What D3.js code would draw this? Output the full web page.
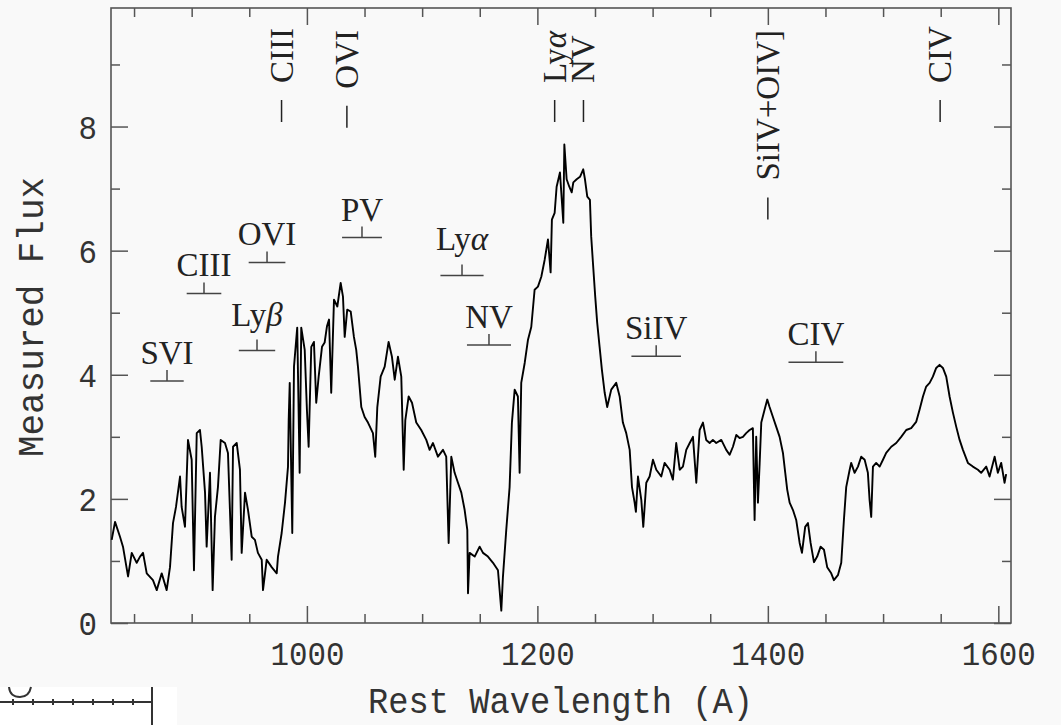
<!DOCTYPE html>
<html><head><meta charset="utf-8">
<script src="https://cdn.jsdelivr.net/npm/d3@7"></script>
<style>body{margin:0;background:#f9f9f9;} svg{display:block}</style>
</head><body>
<svg id="c" width="1061" height="725"></svg>
<script>
// ---------------- data ----------------
const wavelength = [830.6,833.5,837.8,840.4,844.8,848.0,852.3,855.2,857.8,861.0,866.4,869.7,874.0,878.3,881.2,883.8,886.4,889.9,891.3,894.2,896.8,900.0,902.0,904.4,907.2,908.7,911.6,913.0,915.9,918.2,920.2,922.8,925.2,928.9,931.5,934.7,935.9,939.1,941.9,943.4,946.3,948.9,952.1,954.9,957.5,960.8,961.9,965.1,969.4,973.8,974.9,978.1,981.0,983.6,984.2,985.1,987.3,988.8,991.6,993.7,995.1,998.1,1000.0,1001.5,1003.8,1006.1,1008.1,1010.2,1013.1,1015.4,1017.4,1019.2,1021.1,1023.5,1026.4,1029.3,1031.3,1032.8,1035.0,1038.0,1040.8,1042.8,1044.3,1047.2,1050.1,1053.0,1057.3,1059.3,1061.1,1064.0,1067.5,1070.9,1073.8,1076.2,1079.0,1081.9,1084.0,1085.4,1088.3,1091.2,1094.9,1099.2,1103.6,1106.5,1109.4,1113.7,1118.1,1120.9,1123.0,1125.3,1128.2,1131.1,1134.0,1136.9,1139.2,1139.8,1141.2,1145.6,1149.9,1152.8,1157.1,1161.5,1165.8,1168.7,1170.1,1173.0,1175.9,1177.9,1180.3,1183.1,1184.6,1186.0,1189.0,1191.8,1194.7,1197.6,1200.5,1203.4,1206.3,1209.2,1211.5,1212.6,1215.0,1216.7,1219.6,1222.5,1223.4,1225.4,1227.7,1229.8,1231.2,1234.1,1237.0,1239.8,1241.3,1243.3,1245.6,1246.7,1248.2,1250.2,1251.9,1254.0,1256.0,1258.4,1260.6,1264.1,1268.4,1271.4,1274.2,1277.1,1280.1,1282.1,1284.4,1285.5,1287.3,1290.2,1291.9,1294.5,1297.4,1300.3,1303.2,1307.5,1310.4,1314.8,1317.6,1320.5,1323.5,1326.3,1329.2,1332.2,1335.0,1337.9,1340.8,1343.7,1346.5,1349.5,1352.3,1355.2,1359.6,1363.9,1366.8,1369.7,1372.6,1375.5,1378.4,1381.2,1384.2,1387.0,1388.5,1389.9,1391.4,1392.9,1394.3,1397.2,1399.5,1401.5,1404.4,1407.3,1410.2,1413.1,1415.1,1416.8,1418.9,1421.8,1424.6,1427.6,1429.6,1432.4,1434.8,1437.1,1440.0,1442.8,1445.8,1448.7,1451.5,1455.0,1457.3,1460.8,1463.7,1466.0,1468.0,1471.0,1472.3,1475.3,1478.2,1481.0,1484.0,1486.8,1488.3,1489.7,1491.2,1494.0,1497.0,1499.9,1502.7,1507.1,1511.4,1515.7,1520.1,1524.4,1528.7,1531.7,1534.6,1537.4,1540.4,1543.2,1546.1,1549.0,1551.9,1554.8,1557.7,1560.6,1563.5,1566.4,1569.3,1573.6,1577.9,1582.3,1585.1,1589.5,1592.4,1596.8,1599.6,1602.5,1605.4,1606.8];
const flux = [1.34,1.63,1.39,1.23,0.75,1.13,0.97,1.07,1.13,0.8,0.69,0.53,0.8,0.53,0.9,1.61,1.87,2.36,1.87,1.55,2.95,2.63,0.85,3.06,3.11,2.84,2.1,1.23,2.42,0.53,1.71,2.19,2.95,2.9,2.74,1.02,2.84,2.9,2.47,1.13,2.1,1.82,1.39,1.34,1.13,1.02,0.53,1.02,0.9,0.8,1.07,1.45,1.94,2.52,3.27,3.87,1.45,4.13,4.76,2.42,4.76,4.4,3.44,2.84,4.45,4.53,3.55,3.97,4.45,4.52,4.78,4.89,3.71,5.21,5.1,5.48,5.26,4.61,5.05,5.02,4.61,4.4,4.13,3.48,3.32,3.23,3.06,2.68,3.48,3.97,4.13,4.53,4.29,3.92,4.29,3.97,2.47,3.27,3.65,3.55,3.23,3.11,2.95,2.79,2.9,2.68,2.79,2.68,1.29,2.68,2.42,2.26,2.1,1.82,1.5,0.48,1.13,1.07,1.23,1.13,1.07,0.97,0.85,0.2,0.74,1.5,2.19,3.23,3.76,3.65,2.42,3.87,4.19,4.56,4.77,5.37,5.42,5.58,5.85,6.18,5.65,6.5,6.61,7.03,7.26,6.45,7.71,7.15,7.03,6.94,7.1,7.15,7.19,7.31,7.15,6.87,6.82,6.23,5.81,5.26,4.84,4.45,4.08,3.71,3.48,3.76,3.87,3.65,3.23,3.06,2.79,2.19,1.94,1.79,2.36,1.98,1.55,2.26,2.36,2.63,2.47,2.36,2.58,2.47,2.31,2.9,2.47,2.52,2.79,2.9,3.0,2.26,3.11,3.23,2.95,2.9,2.95,2.9,2.95,2.79,2.71,2.84,3.03,2.98,3.0,3.06,3.11,3.14,1.66,3.0,1.94,2.58,3.23,3.44,3.6,3.48,3.32,3.16,3.0,2.74,2.42,2.15,1.94,1.82,1.66,1.29,1.13,1.55,1.61,1.29,0.98,1.07,1.23,1.18,0.9,0.8,0.69,0.77,0.97,1.66,2.19,2.47,2.58,2.42,2.52,2.68,2.63,2.42,1.98,1.71,2.52,2.58,2.52,2.63,2.74,2.84,2.9,3.0,3.11,3.14,3.24,3.44,3.65,3.81,3.87,3.97,4.11,4.16,4.11,3.97,3.65,3.39,3.16,2.95,2.79,2.58,2.52,2.47,2.42,2.52,2.36,2.68,2.42,2.58,2.26,2.4];

const xTicksMajor = [1000, 1200, 1400, 1600];
const xTickLabels = ["1000", "1200", "1400", "1600"];
const yTicksMajor = [0, 2, 4, 6, 8];
const yTickLabels = ["0", "2", "4", "6", "8"];
const xTitle = "Rest Wavelength (A)";
const yTitle = "Measured Flux";

const emissionNames = ["CIII", "OVI", "Lyα", "NV", "SiIV+OIV]", "CIV"];
const emissionWave = [978, 1034.7, 1215, 1240, 1400, 1549.5];

const absorptionNames = ["SVI", "CIII", "Lyβ", "OVI", "PV", "Lyα", "NV", "SiIV", "CIV"];
const absorptionWave = [878.6, 910.7, 956.7, 965.4, 1047.8, 1134.6, 1158.0, 1303.1, 1441.7];
const absorptionFlux = [3.9, 5.31, 4.39, 5.81, 6.21, 5.6, 4.48, 4.3, 4.2];
const troughHalfWidth = 0.0165; // fraction of wavelength (v/c)

// ---------------- drawing ----------------
const svg = d3.select("#c");
const L = 111, R = 1011, T = 8, B = 623;
const x = d3.scaleLinear().domain([830, 1611]).range([L, R]);
const y = d3.scaleLinear().domain([0, 9.91]).range([B, T]);

const INK = "#222", AX = "#555";
const MONO = "'Liberation Mono', 'Courier New', monospace";
const SERIF = "'Liberation Serif', 'Times New Roman', serif";

const xMinor = d3.range(850, 1611, 50).filter(v => !xTicksMajor.includes(v));
const yMinor = [1, 3, 5, 7, 9];

function styleAxis(g) {
  g.select(".domain").remove();
  g.selectAll(".tick line").attr("stroke", AX).attr("stroke-width", 1.5);
}

// bottom
svg.append("g").attr("transform", `translate(0,${B})`)
  .call(d3.axisBottom(x).tickValues(xTicksMajor).tickSize(-17).tickSizeOuter(0)
    .tickFormat((d, i) => xTickLabels[i]))
  .call(styleAxis)
  .call(g => g.selectAll(".tick text")
    .attr("y", 42).attr("dy", null)
    .attr("font-family", MONO).attr("font-size", 34).attr("fill", "#333")
    .attr("textLength", function () { return this.textContent.length * 18.5; })
    .attr("lengthAdjust", "spacingAndGlyphs"));
svg.append("g").attr("transform", `translate(0,${B})`)
  .call(d3.axisBottom(x).tickValues(xMinor).tickSize(-9).tickSizeOuter(0).tickFormat(""))
  .call(styleAxis);
// top
svg.append("g").attr("transform", `translate(0,${T})`)
  .call(d3.axisTop(x).tickValues(xTicksMajor).tickSize(-17).tickSizeOuter(0).tickFormat(""))
  .call(styleAxis);
svg.append("g").attr("transform", `translate(0,${T})`)
  .call(d3.axisTop(x).tickValues(xMinor).tickSize(-9).tickSizeOuter(0).tickFormat(""))
  .call(styleAxis);
// left
svg.append("g").attr("transform", `translate(${L},0)`)
  .call(d3.axisLeft(y).tickValues(yTicksMajor).tickSize(-17).tickSizeOuter(0)
    .tickFormat((d, i) => yTickLabels[i]))
  .call(styleAxis)
  .call(g => g.selectAll(".tick text")
    .attr("x", -14).attr("dy", null).attr("y", 11.5)
    .attr("font-family", MONO).attr("font-size", 34).attr("fill", "#333")
    .attr("textLength", function () { return this.textContent.length * 18.5; })
    .attr("lengthAdjust", "spacingAndGlyphs"));
svg.append("g").attr("transform", `translate(${L},0)`)
  .call(d3.axisLeft(y).tickValues(yMinor).tickSize(-9).tickSizeOuter(0).tickFormat(""))
  .call(styleAxis);
// right
svg.append("g").attr("transform", `translate(${R},0)`)
  .call(d3.axisRight(y).tickValues(yTicksMajor).tickSize(-17).tickSizeOuter(0).tickFormat(""))
  .call(styleAxis);
svg.append("g").attr("transform", `translate(${R},0)`)
  .call(d3.axisRight(y).tickValues(yMinor).tickSize(-9).tickSizeOuter(0).tickFormat(""))
  .call(styleAxis);

// frame
svg.append("rect").attr("x", L).attr("y", T).attr("width", R - L).attr("height", B - T)
  .attr("fill", "none").attr("stroke", AX).attr("stroke-width", 1.6);

// axis titles
svg.append("text").attr("x", 560.5).attr("y", 713)
  .attr("text-anchor", "middle").attr("font-family", MONO).attr("font-size", 36)
  .attr("fill", "#333").attr("textLength", 385).attr("lengthAdjust", "spacingAndGlyphs")
  .text(xTitle);
svg.append("text").attr("transform", "translate(43,317) rotate(-90)")
  .attr("text-anchor", "middle").attr("font-family", MONO).attr("font-size", 36)
  .attr("fill", "#333").attr("textLength", 280).attr("lengthAdjust", "spacingAndGlyphs")
  .text(yTitle);

// spectrum
const pts = wavelength.map((w, i) => [w, flux[i]]);
svg.append("path").datum(pts)
  .attr("d", d3.line().x(d => x(d[0])).y(d => y(d[1])))
  .attr("fill", "none").attr("stroke", "#000").attr("stroke-width", 1.9)
  .attr("stroke-linejoin", "round");

function fillLabel(t, str) {
  str.split(/([α-ω]+)/).forEach(p => {
    if (!p) return;
    const s = t.append("tspan").text(p);
    if (/[α-ω]/.test(p)) s.attr("font-style", "italic");
  });
}

// emission line labels (rotated, top)
emissionNames.forEach((name, i) => {
  const lx = x(emissionWave[i]);
  const t = svg.append("text").attr("font-family", SERIF).attr("font-size", 33)
    .attr("fill", INK).attr("text-anchor", "start");
  fillLabel(t, name);
  t.attr("transform", `translate(${lx + 11},83) rotate(-90)`);
  let start = 83;
  const len = t.node().getComputedTextLength();
  if (start - len < 26) {
    start = 30 + len;
    t.attr("transform", `translate(${lx + 11},${start}) rotate(-90)`);
  }
  svg.append("line").attr("x1", lx).attr("x2", lx)
    .attr("y1", start + 17).attr("y2", start + 39)
    .attr("stroke", INK).attr("stroke-width", 1.5);
});

// absorption trough labels
absorptionNames.forEach((name, i) => {
  const w = absorptionWave[i];
  const cx = x(w), by = y(absorptionFlux[i]);
  svg.append("line").attr("x1", x(w * (1 - troughHalfWidth))).attr("x2", x(w * (1 + troughHalfWidth)))
    .attr("y1", by).attr("y2", by).attr("stroke", "#444").attr("stroke-width", 1.5);
  svg.append("line").attr("x1", cx).attr("x2", cx).attr("y1", by).attr("y2", by - 11)
    .attr("stroke", "#444").attr("stroke-width", 1.5);
  const desc = /[yβgpq]/.test(name) ? 8 : 0;
  const t = svg.append("text").attr("x", cx).attr("y", by - 17 - desc)
    .attr("text-anchor", "middle").attr("font-family", SERIF).attr("font-size", 33)
    .attr("fill", INK);
  fillLabel(t, name);
});

// stray fragment of a neighbouring figure (bottom-left corner)
const frag = svg.append("g");
frag.append("rect").attr("x", 0).attr("y", 687).attr("width", 177).attr("height", 38).attr("fill", "#fff");
frag.append("line").attr("x1", 0).attr("x2", 152).attr("y1", 702).attr("y2", 702)
  .attr("stroke", "#333").attr("stroke-width", 2);
frag.selectAll("line.t").data(d3.range(13, 150, 20)).join("line").attr("class", "t")
  .attr("x1", d => d).attr("x2", d => d).attr("y1", 699).attr("y2", 705)
  .attr("stroke", "#333").attr("stroke-width", 2);
frag.append("line").attr("x1", 152).attr("x2", 152).attr("y1", 687).attr("y2", 725)
  .attr("stroke", "#333").attr("stroke-width", 2);
frag.append("path").attr("d", "M9,687 Q10,697 20,697 Q29,697 31,687")
  .attr("fill", "none").attr("stroke", "#333").attr("stroke-width", 2);
</script>
</body></html>
